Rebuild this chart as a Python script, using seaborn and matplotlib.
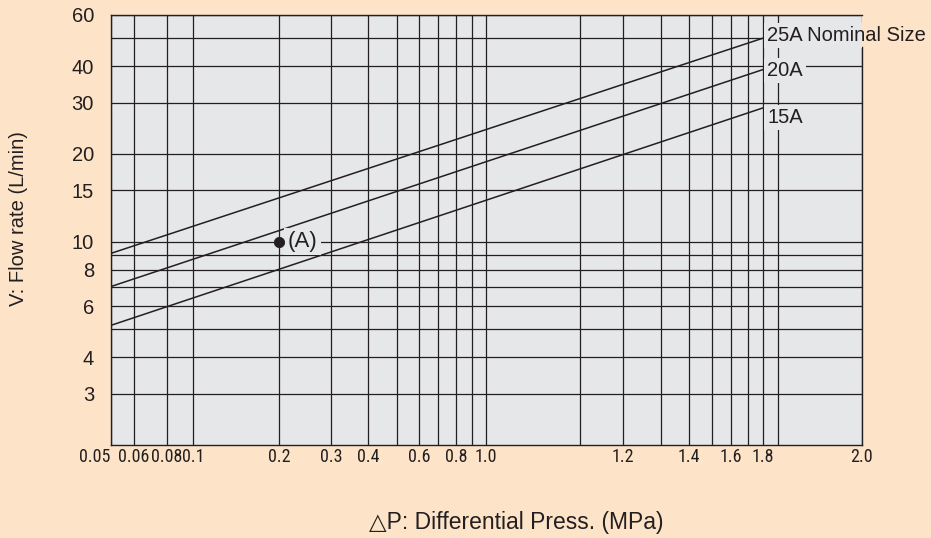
# flow rate vs differential pressure chart (nominal sizes 15A/20A/25A)
import numpy as np
import pandas as pd
import matplotlib
matplotlib.use("Agg")
from matplotlib import pyplot as plt
from matplotlib import font_manager as fm
from matplotlib.ticker import NullFormatter
import seaborn as sns

# --- DATA ---
sizes = ["25A", "20A", "15A"]
dp_range = [0.05, 1.8]          # MPa, ends of each size line
flow_25A = [9.1, 50.0]          # L/min
flow_20A = [7.0, 39.0]
flow_15A = [5.15, 28.8]

point_dp = 0.2                  # example point (A)
point_flow = 10

x_major = [0.05, 0.06, 0.08, 0.1, 0.2, 0.3, 0.4, 0.6, 0.8, 1.0, 1.2, 1.4, 1.6, 1.8, 2.0]
x_labels = ["0.05", "0.06", "0.08", "0.1", "0.2", "0.3", "0.4", "0.6", "0.8",
            "1.0", "1.2", "1.4", "1.6", "1.8", "2.0"]
x_minor = [0.5, 0.7, 0.9, 1.1, 1.3, 1.5, 1.7, 1.9]
y_major = [3, 4, 6, 8, 10, 15, 20, 30, 40, 60]
y_minor = [5, 7, 9, 50]

# --- X SCALE ---
# the printed chart has an uneven pressure grid; map value -> relative position
knot_vals = [0.05, 0.06, 0.08, 0.1, 0.2, 0.3, 0.4, 0.5, 0.6, 0.7, 0.8, 0.9, 1.0,
             1.1, 1.2, 1.3, 1.4, 1.5, 1.6, 1.7, 1.8, 1.9, 2.0]
knot_pos = [0, 23, 56, 82.6, 168.6, 220.3, 257.6, 286, 308.6, 327, 345.3, 361, 375.3,
            469.3, 512.6, 550.3, 578.6, 601.6, 620.3, 637.6, 652.6, 667, 751]
lk = np.log10(knot_vals)
# extend both ends so the mapping stays monotonic outside the range
lk_ext = np.concatenate([[-9.0], lk, [3.0]])
pos_ext = np.concatenate([[knot_pos[0] - (lk[0] + 9.0) * 280],
                          knot_pos,
                          [knot_pos[-1] + (3.0 - lk[-1]) * 280]])


def fwd(x):
    x = np.asarray(x, dtype=float)
    with np.errstate(divide="ignore", invalid="ignore"):
        lx = np.log10(np.clip(x, 1e-9, None))
    return np.interp(lx, lk_ext, pos_ext)


def inv(p):
    return 10 ** np.interp(np.asarray(p, dtype=float), pos_ext, lk_ext)


# --- PLOT ---
bg = "#fde4c8"
panel = "#e6e7e9"
ink = "#231f20"

sns.set_theme(style="ticks")
plt.rcParams["font.family"] = ["Liberation Sans", "DejaVu Sans"]
plt.rcParams["text.color"] = ink

# x tick labels in the print are condensed; pick a narrow face if one is installed
cond_font = None
for f in fm.fontManager.ttflist:
    if f.name in ("Liberation Sans Narrow", "Roboto Condensed", "Open Sans Condensed"):
        cond_font = fm.FontProperties(family=f.name, size=13)
        break
if cond_font is None:
    for f in fm.fontManager.ttflist:
        if (f.name in ("DejaVu Sans", "Open Sans", "Noto Sans", "Roboto", "Inter")
                and f.stretch in ("condensed", "semi-condensed", "extra-condensed")
                and f.style == "normal" and f.weight in (400, "normal", "regular", "book")):
            cond_font = fm.FontProperties(family=f.name, stretch=f.stretch, size=12)
            break
if cond_font is None:
    cond_font = fm.FontProperties(family="Liberation Sans", size=10.5)

df = pd.DataFrame({
    "size": np.repeat(sizes, len(dp_range)),
    "dp": dp_range * len(sizes),
    "flow": flow_25A + flow_20A + flow_15A,
})

fig = plt.figure(figsize=(9.31, 5.38), dpi=100, facecolor=bg)
ax = fig.add_axes([110.7 / 931, 1 - 445 / 538, 751 / 931, 430 / 538])
ax.set_facecolor(panel)

sns.lineplot(data=df, x="dp", y="flow", units="size", estimator=None, sort=False,
             color=ink, lw=1.1, ax=ax, zorder=3)
sns.scatterplot(x=[point_dp], y=[point_flow], color=ink, edgecolor=ink, s=55,
                ax=ax, zorder=8, legend=False)

ax.set_xscale("function", functions=(fwd, inv))
ax.set_yscale("log")
ax.set_xlim(0.05, 2.0)
ax.set_ylim(2.0, 60)

ax.set_xticks(x_major, labels=x_labels, fontproperties=cond_font)
ax.set_xticks(x_minor, minor=True)
ax.set_yticks(y_major, labels=[str(v) for v in y_major], fontsize=14.5)
ax.set_yticks(y_minor, minor=True)
ax.xaxis.set_minor_formatter(NullFormatter())
ax.yaxis.set_minor_formatter(NullFormatter())
ax.tick_params(which="both", length=0, colors=ink)
ax.tick_params(axis="x", pad=2)
ax.tick_params(axis="y", pad=12)
# first pressure label sits left of the corner, as printed
ax.xaxis.get_major_ticks()[0].label1.set_horizontalalignment("right")

ax.grid(True, which="both", color=ink, lw=0.9)
ax.set_axisbelow(True)
for side in ["left", "right", "top", "bottom"]:
    ax.spines[side].set_color(ink)
    ax.spines[side].set_linewidth(1.0)
ax.spines["right"].set_bounds(2.0, 46.5)

# size labels at the line ends
box = dict(boxstyle="square,pad=0.15", fc=panel, ec="none")
offsets = [2, -1, -7]
for name, ys, dy in zip(sizes, [flow_25A, flow_20A, flow_15A], offsets):
    txt = name if name != "25A" else "25A Nominal Size"
    # box hides the grid behind the label, clipped to the panel
    ax.annotate(txt, xy=(dp_range[1], ys[1]), xytext=(3, dy), textcoords="offset points",
                ha="left", va="center", fontsize=14.5, color=(0, 0, 0, 0),
                bbox=box, zorder=5, clip_on=True, annotation_clip=False)
    ax.annotate(txt, xy=(dp_range[1], ys[1]), xytext=(3, dy), textcoords="offset points",
                ha="left", va="center", fontsize=14.5, color=ink,
                zorder=6, annotation_clip=False)

ax.annotate("(A)", xy=(point_dp, point_flow), xytext=(6, 0), textcoords="offset points",
            ha="left", va="center", fontsize=16, color=ink,
            bbox=dict(boxstyle="square,pad=0.15", fc=panel, ec="none"), zorder=7)

ax.set_xlabel("△P: Differential Press. (MPa)", fontsize=16.5, color=ink)
ax.xaxis.label.set_va("center")
ax.xaxis.set_label_coords(0.54, -0.181)
ax.set_ylabel("V: Flow rate (L/min)", fontsize=14.5, color=ink)
ax.yaxis.label.set_va("center")
ax.yaxis.set_label_coords(-0.1234, 0.526)

fig.savefig("out.png", dpi=100, facecolor=bg)
